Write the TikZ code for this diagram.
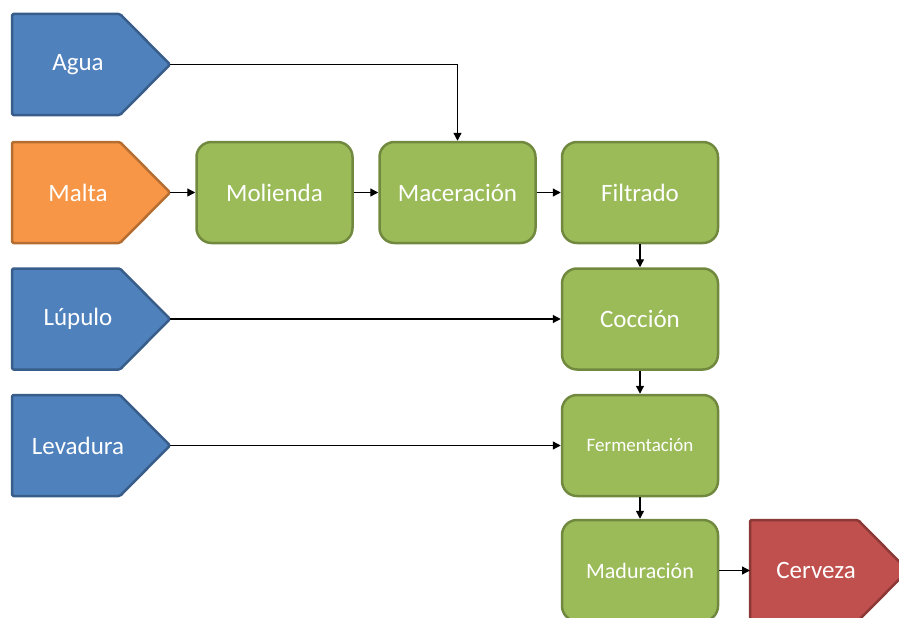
\documentclass[tikz,border=0pt]{standalone}
\usepackage{fontspec}
\setmainfont{Carlito}
\usetikzlibrary{arrows.meta}
\definecolor{bluefill}{HTML}{4F81BD}
\definecolor{blueline}{HTML}{385D8A}
\definecolor{orangefill}{HTML}{F79646}
\definecolor{orangeline}{HTML}{B66D31}
\definecolor{greenfill}{HTML}{9BBB59}
\definecolor{greenline}{HTML}{71893F}
\definecolor{redfill}{HTML}{C0504D}
\definecolor{redline}{HTML}{8C3836}
\newcommand\pentshape[5]{%
  \draw[#4, line width=2.5pt, rounded corners=1.5pt, line join=round] (#2,#3) -- ++(108,0) -- ++(50,50.5) -- ++(-50,50.5) -- ++(-108,0) -- cycle;
  \coordinate (#1tip) at (#2+158,#3+50.5);
  \coordinate (#1left) at (#2,#3+50.5);
  \node[lbl] (#1) at (#2+66,#3+50.5) {#5};
}
\begin{document}
\begin{tikzpicture}[x=1pt,y=-1pt,
  lbl/.style={text=white, font=\fontsize{25}{30}\selectfont, inner sep=0pt},
  bluebox/.style={fill=bluefill, draw=blueline},
  orangebox/.style={fill=orangefill, draw=orangeline},
  redbox/.style={fill=redfill, draw=redline},
  proc/.style={draw=greenline, fill=greenfill, line width=2.5pt, rounded corners=15pt,
    minimum width=156pt, minimum height=101pt, inner sep=0pt, text=white,
    font=\fontsize{25}{30}\selectfont},
  conn/.style={line width=1.3pt, -{Triangle[length=8pt,width=8pt]}}
]
\useasboundingbox (0,0) rectangle (899,618);

\pentshape{agua}{12}{14}{bluebox}{Agua}
\pentshape{malta}{12}{142}{orangebox}{Malta}
\pentshape{lupulo}{12}{268.5}{bluebox}{Lúpulo}
\pentshape{levadura}{12}{395}{bluebox}{Levadura}
\pentshape{cerveza}{750}{520}{redbox}{Cerveza}

\node[proc] (molienda) at (274.5,192.5) {Molienda};
\node[proc] (maceracion) at (457.5,192.5) {Maceración};
\node[proc] (filtrado) at (640,192.5) {Filtrado};
\node[proc] (coccion) at (640,319) {Cocción};
\node[proc, font=\fontsize{19}{23}\selectfont] (fermentacion) at (640,445.5) {Fermentación};
\node[proc, font=\fontsize{22}{26}\selectfont] (maduracion) at (640,570.5) {Maduración};

\draw[conn] (aguatip) -| (maceracion.north);
\draw[conn] (maltatip) -- (molienda.west);
\draw[conn] (molienda.east) -- (maceracion.west);
\draw[conn] (maceracion.east) -- (filtrado.west);
\draw[conn] (filtrado.south) -- (coccion.north);
\draw[conn] (lupulotip) -- (coccion.west);
\draw[conn] (coccion.south) -- (fermentacion.north);
\draw[conn] (levaduratip) -- (fermentacion.west);
\draw[conn] (fermentacion.south) -- (maduracion.north);
\draw[conn] (maduracion.east) -- (cervezaleft);
\end{tikzpicture}
\end{document}
